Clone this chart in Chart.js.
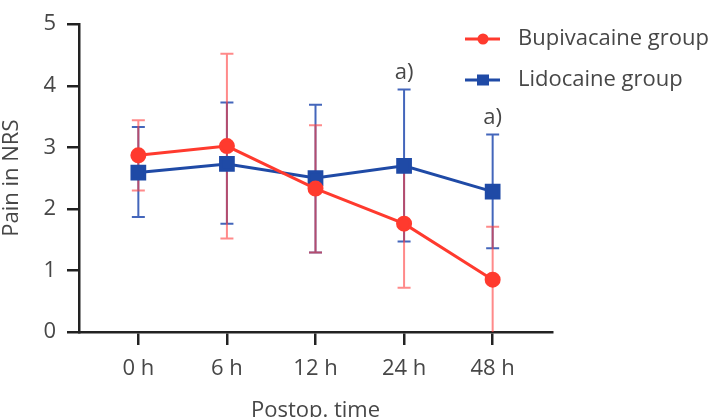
<!DOCTYPE html>
<html>
<head>
<meta charset="utf-8">
<script src="https://cdn.jsdelivr.net/npm/chart.js@4"></script>
<style>
  body { margin: 0; background: #fff; }
</style>
</head>
<body>
<canvas id="chart" width="716" height="417"></canvas>
<script>
const timeLabels = ['0 h', '6 h', '12 h', '24 h', '48 h'];

const bupiMean = [2.87, 3.02, 2.33, 1.76, 0.85];
const bupiLow = [2.30, 1.52, 1.29, 0.72, 0];
const bupiHigh = [3.44, 4.52, 3.36, 2.78, 1.71];

const lidoMean = [2.59, 2.73, 2.50, 2.70, 2.28];
const lidoLow = [1.87, 1.76, 1.29, 1.47, 1.36];
const lidoHigh = [3.33, 3.73, 3.69, 3.94, 3.21];

// significance marks shown above the lidocaine error bars
const notes = ['', '', '', 'a)', 'a)'];

const yTicks = [0, 1, 2, 3, 4, 5];

const RED = '#ff3a2e';
const BLUE = '#1f4aa6';
const TEXT = '#474747';
const FONT = '"Open Sans", sans-serif';

const errorBars = {
  id: 'errorBars',
  beforeDatasetsDraw(chart) {
    const ctx = chart.ctx;
    const y = chart.scales.y;
    const sets = [
      { idx: 1, lo: lidoLow, hi: lidoHigh, color: 'rgba(35,75,175,0.85)' },
      { idx: 0, lo: bupiLow, hi: bupiHigh, color: 'rgba(255,60,60,0.6)' },
    ];
    ctx.save();
    sets.forEach(s => {
      const meta = chart.getDatasetMeta(s.idx);
      ctx.strokeStyle = s.color;
      ctx.lineWidth = 2;
      meta.data.forEach((pt, i) => {
        const yl = y.getPixelForValue(s.lo[i]);
        const yh = y.getPixelForValue(s.hi[i]);
        ctx.beginPath();
        ctx.moveTo(pt.x, yl);
        ctx.lineTo(pt.x, yh);
        ctx.moveTo(pt.x - 6.5, yh);
        ctx.lineTo(pt.x + 6.5, yh);
        if (s.lo[i] > 0) {
          ctx.moveTo(pt.x - 6.5, yl);
          ctx.lineTo(pt.x + 6.5, yl);
        }
        ctx.stroke();
      });
    });
    ctx.restore();
  },
  afterDraw(chart) {
    const ctx = chart.ctx;
    const x = chart.scales.x;
    const y = chart.scales.y;
    ctx.save();
    ctx.font = '22px ' + FONT;
    ctx.fillStyle = TEXT;
    ctx.textAlign = 'center';
    ctx.textBaseline = 'bottom';
    notes.forEach((n, i) => {
      if (!n) return;
      ctx.fillText(n, x.getPixelForValue(i), y.getPixelForValue(lidoHigh[i]) - 6);
    });

    // legend
    const items = [
      { label: 'Bupivacaine group', color: RED, style: 'circle', yPos: 39 },
      { label: 'Lidocaine group', color: BLUE, style: 'rect', yPos: 80 },
    ];
    ctx.textAlign = 'left';
    ctx.textBaseline = 'middle';
    items.forEach(it => {
      ctx.strokeStyle = it.color;
      ctx.fillStyle = it.color;
      ctx.lineWidth = 3;
      ctx.beginPath();
      ctx.moveTo(465, it.yPos);
      ctx.lineTo(500, it.yPos);
      ctx.stroke();
      if (it.style === 'circle') {
        ctx.beginPath();
        ctx.arc(483, it.yPos, 5.5, 0, Math.PI * 2);
        ctx.fill();
      } else {
        ctx.fillRect(477, it.yPos - 5.5, 12, 11);
      }
      ctx.fillStyle = TEXT;
      ctx.fillText(it.label, 518, it.yPos);
    });
    ctx.restore();
  }
};

new Chart(document.getElementById('chart'), {
  type: 'line',
  data: {
    labels: timeLabels,
    datasets: [
      {
        label: 'Bupivacaine group',
        data: bupiMean.map((v, i) => ({ x: i, y: v })),
        borderColor: RED,
        backgroundColor: RED,
        borderWidth: 3,
        pointStyle: 'circle',
        pointRadius: 6.5,
        pointHoverRadius: 6.5,
        fill: false,
      },
      {
        label: 'Lidocaine group',
        data: lidoMean.map((v, i) => ({ x: i, y: v })),
        borderColor: BLUE,
        backgroundColor: BLUE,
        borderWidth: 3,
        pointStyle: 'rect',
        pointRadius: 9,
        pointHoverRadius: 9,
        fill: false,
      },
    ],
  },
  options: {
    responsive: false,
    animation: false,
    clip: false,
    layout: { padding: { top: 21, right: 164, left: 0, bottom: 0 } },
    plugins: {
      legend: { display: false },
      tooltip: { enabled: false },
    },
    scales: {
      x: {
        type: 'linear',
        min: -0.67,
        max: 4.67,
        afterBuildTicks: (scale) => {
          scale.ticks = timeLabels.map((_, i) => ({ value: i }));
        },
        afterFit: (scale) => { scale.height = 85; },
        grid: { drawOnChartArea: false, drawTicks: true, tickLength: 13, color: '#222', lineWidth: 2.5 },
        border: { color: '#222', width: 2.5 },
        ticks: {
          callback: (v) => timeLabels[v],
          color: TEXT,
          font: { family: FONT, size: 22 },
          padding: 11,
          maxRotation: 0,
        },
        title: {
          display: true,
          text: 'Postop. time',
          color: TEXT,
          font: { family: FONT, size: 22 },
          padding: { top: 0, bottom: -7 },
        },
      },
      y: {
        min: 0,
        max: 5,
        afterBuildTicks: (scale) => {
          scale.ticks = yTicks.map(v => ({ value: v }));
        },
        afterFit: (scale) => { scale.width = 79; },
        grid: { drawOnChartArea: false, drawTicks: true, tickLength: 12, color: '#222', lineWidth: 2.5 },
        border: { color: '#222', width: 2.5 },
        ticks: {
          color: TEXT,
          font: { family: FONT, size: 22 },
          padding: 11,
        },
        title: {
          display: true,
          text: 'Pain in NRS',
          color: TEXT,
          font: { family: FONT, size: 22 },
          padding: { top: -1, bottom: 0 },
        },
      },
    },
  },
  plugins: [errorBars],
});
</script>
</body>
</html>
